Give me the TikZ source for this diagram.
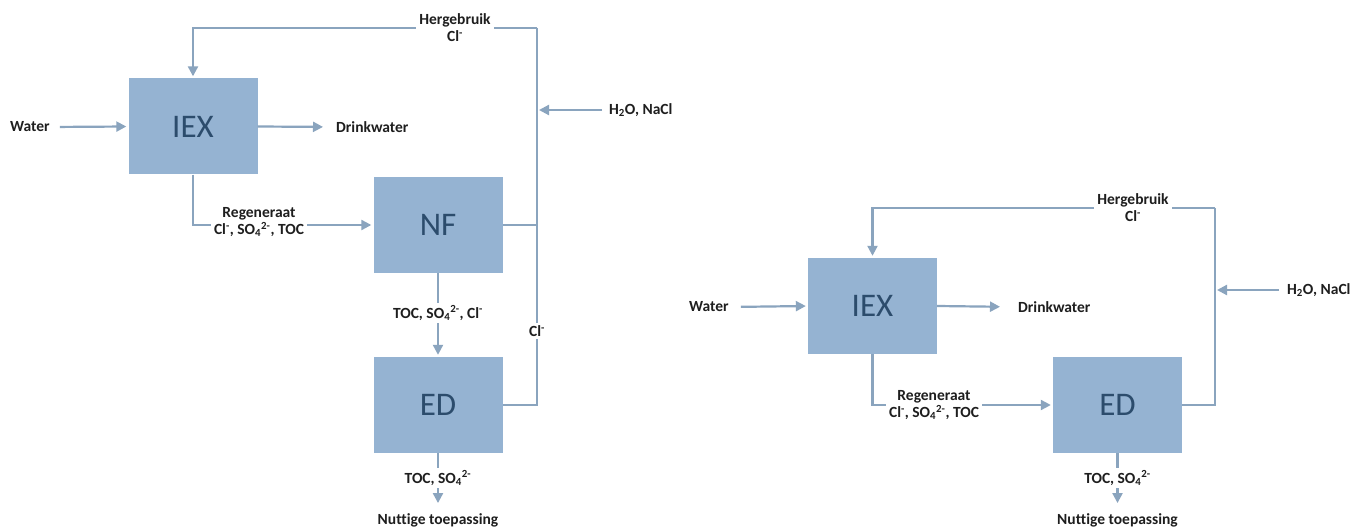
\documentclass[tikz,border=0pt]{standalone}
\usepackage{fontspec}
\setmainfont{Carlito}[Ligatures=NoCommon]
\usetikzlibrary{arrows.meta}
\definecolor{boxfill}{RGB}{149,179,210}
\definecolor{boxtext}{RGB}{44,76,108}
\definecolor{linecol}{RGB}{138,164,190}
\definecolor{labtext}{RGB}{30,30,30}
\begin{document}
\begin{tikzpicture}[x=1pt,y=-1pt,
  box/.style={fill=boxfill,draw=none,minimum width=129pt,minimum height=96pt,inner sep=0pt,
    font=\fontsize{33}{36}\selectfont,text=boxtext},
  lab/.style={font=\bfseries\fontsize{15.5}{17}\selectfont,text=labtext,inner sep=0pt},
  wlab/.style={lab,fill=white,align=center,inner sep=3pt},
  conn/.style={draw=linecol,line width=2.2pt},
  arr/.style={conn,-{Triangle[length=10pt,width=10pt]},shorten >=2pt}]
\useasboundingbox (0,0) rectangle (1365,529);
\fill[white] (0,0) rectangle (1365,529);
% ---------- left diagram ----------
\node[box] (iex1) at (193,126.5) {IEX};
\node[box] (nf1) at (438,225) {NF};
\node[box] (ed1) at (438,405) {ED};
\node[lab,anchor=west] (w1) at (10,127) {Water};
\node[lab,anchor=west] (dw1) at (336,127) {Drinkwater};
\node[lab,anchor=west] (h1) at (609,110) {H\textsubscript{2}O, NaCl};
\node[lab] (nut1) at (438,520) {Nuttige toepassing};
\coordinate (c1) at (537,28);
\draw[arr,shorten <=10pt] (w1.east) -- (iex1.west);
\draw[arr,shorten >=13pt] (iex1.east) -- (dw1.west);
\draw[arr] (c1) -- (iex1.north |- c1) -- (iex1.north);
\draw[conn] (c1) -- (c1 |- ed1.east) -- (ed1.east);
\draw[conn] (nf1.east) -- (c1 |- nf1.east);
\draw[arr,shorten <=7pt] (h1.west) -- (c1 |- h1.west);
\draw[arr] (iex1.south) -- (iex1.south |- nf1.west) -- (nf1.west);
\draw[arr] (nf1.south) -- (ed1.north);
\draw[arr,shorten >=10pt] (ed1.south) -- (nut1.north);
\node[wlab] (hg1) at (455,28) {Hergebruik\\Cl\textsuperscript{-}};
\node[wlab] (cl1) at (537,331) {Cl\textsuperscript{-}};
\node[wlab] (rg1) at (259,222) {Regeneraat\\Cl\textsuperscript{-}, SO\textsubscript{4}\textsuperscript{2-}, TOC};
\node[wlab] (t1) at (438,313) {TOC, SO\textsubscript{4}\textsuperscript{2-}, Cl\textsuperscript{-}};
\node[wlab] (t2) at (438,478) {TOC, SO\textsubscript{4}\textsuperscript{2-}};
% ---------- right diagram ----------
\node[box] (iex2) at (872.5,306) {IEX};
\node[box] (ed2) at (1117.5,405) {ED};
\node[lab,anchor=west] (w2) at (689,307) {Water};
\node[lab,anchor=west] (dw2) at (1018,307) {Drinkwater};
\node[lab,anchor=west] (h2) at (1287,290) {H\textsubscript{2}O, NaCl};
\node[lab] (nut2) at (1117.5,520) {Nuttige toepassing};
\coordinate (c2) at (1215,208);
\draw[arr,shorten <=12pt] (w2.east) -- (iex2.west);
\draw[arr,shorten >=18pt] (iex2.east) -- (dw2.west);
\draw[arr] (c2) -- (iex2.north |- c2) -- (iex2.north);
\draw[conn] (c2) -- (c2 |- ed2.east) -- (ed2.east);
\draw[arr,shorten <=8pt] (h2.west) -- (c2 |- h2.west);
\draw[arr] (iex2.south) -- (iex2.south |- ed2.west) -- (ed2.west);
\draw[arr,shorten >=10pt] (ed2.south) -- (nut2.north);
\node[wlab] (hg2) at (1133,208) {Hergebruik\\Cl\textsuperscript{-}};
\node[wlab] (rg2) at (934,405) {Regeneraat\\Cl\textsuperscript{-}, SO\textsubscript{4}\textsuperscript{2-}, TOC};
\node[wlab] (t3) at (1117.5,478) {TOC, SO\textsubscript{4}\textsuperscript{2-}};
\end{tikzpicture}
\end{document}
